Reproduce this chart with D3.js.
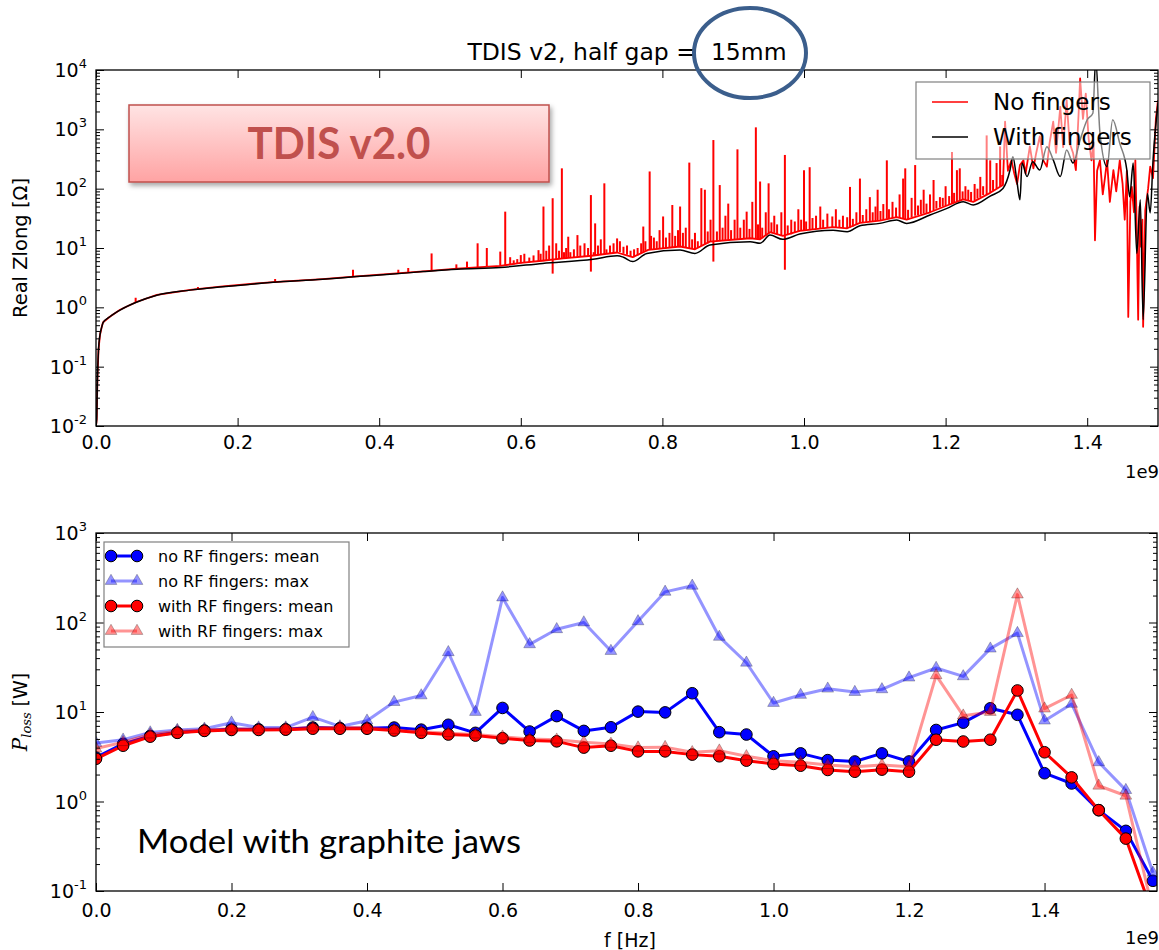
<!DOCTYPE html>
<html>
<head>
<meta charset="utf-8">
<script src="https://cdn.jsdelivr.net/npm/d3@7"></script>
<style>
  body { margin: 0; background: #fff; }
  svg { font-family: "DejaVu Sans", sans-serif; }
</style>
</head>
<body>
<svg id="chart" width="1159" height="950"></svg>
<script>
// ---- top panel: Real Zlong vs f (units of 1e9 Hz) ----
var withFingers = [
  [0.000, 0.010], [0.001, 0.013], [0.002, 0.060], [0.0035, 0.19], [0.0056, 0.34],
  [0.008, 0.46], [0.010, 0.55], [0.020, 0.70], [0.034, 0.90], [0.057, 1.22],
  [0.086, 1.60], [0.133, 1.95], [0.179, 2.22], [0.250, 2.64], [0.320, 2.96],
  [0.368, 3.30], [0.415, 3.60], [0.462, 4.00], [0.510, 4.40], [0.571, 4.70],
  [0.631, 5.50], [0.702, 6.45], [0.736, 7.40], [0.745, 7.00], [0.758, 5.90],
  [0.778, 8.10], [0.825, 9.25], [0.846, 8.10], [0.867, 11.2], [0.924, 12.8],
  [0.938, 12.0], [0.952, 16.5], [0.970, 14.0], [0.994, 17.2], [1.041, 20.0],
  [1.061, 18.8], [1.079, 23.8], [1.107, 26.0], [1.131, 29.6], [1.145, 26.0],
  [1.178, 36.0], [1.202, 46.5], [1.225, 60.0], [1.239, 53.0], [1.263, 75.0],
  [1.281, 101], [1.291, 206], [1.295, 345], [1.301, 126], [1.305, 65],
  [1.308, 270], [1.315, 160], [1.323, 285], [1.333, 206], [1.343, 510],
  [1.352, 305], [1.362, 160], [1.371, 450], [1.380, 270], [1.390, 660],
  [1.400, 1450], [1.408, 1870], [1.412, 15000], [1.418, 870], [1.428, 235],
  [1.436, 1450], [1.446, 580], [1.456, 206], [1.460, 73], [1.465, 270],
  [1.470, 8.1], [1.475, 65], [1.479, 0.62], [1.485, 83], [1.489, 39],
  [1.493, 305], [1.500, 2760]
];

// "No fingers": running level of the red trace ...
var noFingersBase = [
  [0.000, 0.010], [0.001, 0.013], [0.002, 0.060], [0.0035, 0.19], [0.0056, 0.34],
  [0.008, 0.46], [0.010, 0.56], [0.020, 0.70], [0.034, 0.91], [0.057, 1.23],
  [0.086, 1.62], [0.133, 1.97], [0.179, 2.25], [0.250, 2.67], [0.320, 3.00],
  [0.368, 3.33], [0.415, 3.65], [0.462, 4.05], [0.510, 4.50], [0.571, 5.00],
  [0.600, 5.6], [0.630, 6.1], [0.660, 6.7], [0.700, 7.4], [0.736, 8.4],
  [0.758, 7.0], [0.780, 9.3], [0.825, 10.6], [0.846, 9.5], [0.867, 12.8],
  [0.924, 14.6], [0.938, 14.0], [0.952, 18.5], [0.970, 16.0], [0.994, 19.5],
  [1.041, 22.5], [1.061, 21.5], [1.079, 26.5], [1.107, 29.0], [1.131, 33.0],
  [1.145, 30.0], [1.178, 40.0], [1.202, 52.0], [1.225, 66.0], [1.239, 60.0],
  [1.263, 85.0], [1.281, 115], [1.284, 1350], [1.288, 200], [1.293, 300],
  [1.297, 180], [1.301, 120], [1.305, 250], [1.310, 300], [1.313, 180],
  [1.319, 515], [1.324, 220], [1.328, 400], [1.333, 760], [1.338, 300],
  [1.343, 235], [1.347, 600], [1.352, 1350], [1.356, 400], [1.362, 2400],
  [1.366, 500], [1.371, 3100], [1.375, 600], [1.380, 400], [1.384, 205],
  [1.388, 2000], [1.390, 7200], [1.394, 1500], [1.398, 4000], [1.402, 700],
  [1.406, 300], [1.409, 600], [1.411, 13.5], [1.414, 200], [1.418, 300],
  [1.422, 80], [1.425, 150], [1.428, 300], [1.432, 60], [1.437, 205],
  [1.441, 90], [1.446, 300], [1.450, 120], [1.453, 30], [1.456, 200],
  [1.458, 0.69], [1.461, 60], [1.463, 107], [1.466, 40], [1.468, 300],
  [1.470, 20], [1.472, 0.62], [1.474, 50], [1.476, 10.5], [1.478, 30],
  [1.479, 0.47], [1.482, 43], [1.486, 100], [1.489, 235], [1.493, 150],
  [1.497, 1500], [1.500, 3100]
];

// ... and its narrow resonance spikes: [f, from, to]
var noFingersSpikes = [
  [0.056, 1.23, 1.45], [0.144, 2.02, 2.2], [0.253, 2.67, 3.0], [0.363, 3.3, 4.3],
  [0.427, 3.75, 4.3], [0.441, 3.9, 4.6], [0.474, 4.1, 8.1], [0.509, 4.5, 5.3],
  [0.524, 4.6, 5.9], [0.539, 4.75, 12], [0.552, 4.9, 10], [0.571, 5.0, 8.7],
  [0.578, 5.1, 41], [0.585, 5.2, 7], [0.590, 5.3, 6.2], [0.595, 5.4, 6.5],
  [0.600, 5.5, 7.6], [0.605, 5.6, 8], [0.612, 5.7, 6.9], [0.618, 5.8, 7.5],
  [0.625, 5.9, 9.2], [0.628, 6.0, 8], [0.632, 6.0, 50], [0.636, 6.1, 9],
  [0.640, 6.2, 11], [0.645, 3.7, 69], [0.650, 6.4, 12], [0.654, 6.5, 9],
  [0.658, 6.6, 220], [0.661, 6.7, 8.5], [0.664, 6.7, 10], [0.667, 6.8, 15.5],
  [0.670, 6.9, 8.5], [0.675, 7.0, 9.5], [0.680, 7.1, 16.5], [0.684, 7.1, 11],
  [0.690, 7.2, 12], [0.695, 7.3, 10], [0.699, 4.0, 78], [0.703, 7.4, 8.5],
  [0.705, 7.4, 26], [0.709, 7.5, 11], [0.713, 7.6, 14], [0.718, 7.8, 123],
  [0.721, 7.9, 9.5], [0.726, 8.0, 11], [0.731, 8.2, 12], [0.736, 8.4, 14.5],
  [0.740, 8.5, 13], [0.745, 8.0, 10.5], [0.750, 7.7, 11], [0.755, 7.2, 9],
  [0.760, 7.0, 9.5], [0.765, 7.5, 10], [0.770, 8.2, 12], [0.773, 8.6, 23],
  [0.776, 9.0, 13], [0.782, 9.3, 195], [0.784, 9.3, 16], [0.788, 9.5, 15],
  [0.792, 9.6, 13], [0.796, 9.8, 20], [0.801, 10, 34], [0.805, 10, 15],
  [0.810, 10.2, 18], [0.814, 10.3, 53], [0.818, 10.4, 16], [0.822, 10.5, 20],
  [0.825, 10.6, 50], [0.829, 10.5, 18], [0.833, 10.3, 22], [0.838, 10, 275],
  [0.842, 9.8, 14], [0.846, 9.5, 18], [0.850, 10, 13], [0.855, 10.8, 102],
  [0.860, 11.5, 96], [0.864, 12, 19], [0.868, 12.8, 30], [0.872, 5.9, 660],
  [0.877, 13, 19], [0.881, 13, 115], [0.885, 13.2, 22], [0.889, 13.3, 35],
  [0.893, 13.5, 56], [0.897, 13.7, 20], [0.902, 13.8, 30], [0.906, 14, 460],
  [0.910, 14.1, 22], [0.915, 14.3, 30], [0.919, 14.4, 41], [0.923, 14.5, 21],
  [0.927, 14.5, 60], [0.932, 14.4, 1080], [0.935, 14.2, 25], [0.938, 14, 132],
  [0.941, 14.5, 22], [0.946, 16, 40], [0.950, 17.5, 123], [0.954, 18, 27],
  [0.958, 18, 35], [0.962, 17, 25], [0.968, 16.3, 40], [0.973, 4.3, 370],
  [0.977, 16.5, 24], [0.982, 17, 30], [0.987, 18.5, 28], [0.992, 19, 45],
  [0.996, 19.5, 30], [1.000, 19.6, 205], [1.003, 19.8, 28], [1.008, 20, 230],
  [1.012, 20.5, 32], [1.017, 21, 35], [1.023, 21.5, 50], [1.027, 21.8, 30],
  [1.033, 22.2, 38], [1.040, 22.5, 34], [1.045, 22.4, 45], [1.050, 22, 30],
  [1.055, 21.8, 35], [1.061, 21.5, 33], [1.065, 22, 107], [1.069, 23, 31],
  [1.074, 24.5, 40], [1.079, 26.5, 148], [1.083, 27, 36], [1.088, 27.5, 45],
  [1.093, 28, 72], [1.097, 28.3, 40], [1.101, 28.5, 50], [1.104, 28.8, 96],
  [1.108, 29.2, 42], [1.112, 30, 55], [1.117, 31, 300], [1.120, 31.5, 45],
  [1.125, 32, 60], [1.130, 32.5, 48], [1.135, 32, 80], [1.140, 31, 148],
  [1.143, 30.5, 220], [1.147, 30, 44], [1.152, 33, 70], [1.157, 35, 250],
  [1.161, 36, 52], [1.165, 37, 65], [1.169, 38, 96], [1.173, 39, 56],
  [1.178, 40, 80], [1.183, 43, 140], [1.187, 46, 62], [1.192, 48, 72],
  [1.196, 50, 70], [1.200, 51, 110], [1.205, 53, 75], [1.209, 56, 415],
  [1.212, 58, 85], [1.216, 62, 205], [1.220, 64, 220], [1.224, 65, 90],
  [1.228, 66, 110], [1.232, 64, 96], [1.236, 62, 88], [1.241, 63, 120],
  [1.245, 68, 100], [1.249, 72, 158], [1.253, 78, 110], [1.258, 80, 790],
  [1.263, 85, 300], [1.267, 92, 140], [1.272, 100, 270], [1.277, 108, 515],
  [1.280, 112, 170]
];

// ---- bottom panel: P_loss vs f (units of 1e9 Hz) ----
var lossFreq = [0.00, 0.04, 0.08, 0.12, 0.16, 0.20, 0.24, 0.28, 0.32, 0.36,
                0.40, 0.44, 0.48, 0.52, 0.56, 0.60, 0.64, 0.68, 0.72, 0.76,
                0.80, 0.84, 0.88, 0.92, 0.96, 1.00, 1.04, 1.08, 1.12, 1.16,
                1.20, 1.24, 1.28, 1.32, 1.36, 1.40, 1.44, 1.48, 1.52, 1.56];
var noRFMean = [3.1, 4.4, 5.4, 5.9, 6.2, 6.4, 6.4, 6.4, 6.7, 6.6,
                6.6, 6.7, 6.35, 7.2, 5.85, 11.1, 6.05, 9.0, 6.15, 6.75,
                10.1, 9.9, 16.2, 5.95, 5.6, 3.2, 3.45, 2.9, 2.8, 3.45,
                2.8, 6.3, 7.6, 11.0, 9.3, 2.07, 1.59, 0.8, 0.47, 0.13];
var noRFMax = [4.5, 4.9, 5.9, 6.3, 6.5, 7.6, 6.7, 6.7, 8.75, 6.9,
               8.0, 12.9, 15.3, 46.5, 10.0, 190, 57, 84, 100, 48,
               103, 220, 257, 69, 35.5, 12.6, 15.5, 18.2, 16.7, 17.9,
               24.2, 31, 25, 51, 76, 8.0, 12.3, 2.74, 1.34, 0.16];
var withRFMean = [3.0, 4.2, 5.3, 5.85, 6.15, 6.3, 6.3, 6.35, 6.5, 6.5,
                  6.5, 6.2, 5.85, 5.6, 5.45, 5.1, 4.8, 4.7, 4.0, 4.2,
                  3.63, 3.63, 3.34, 3.2, 2.86, 2.63, 2.51, 2.25, 2.15, 2.27,
                  2.15, 4.9, 4.68, 4.9, 17.4, 3.55, 1.86, 0.8, 0.385, 0.055];
var withRFMax = [3.9, 4.6, 5.6, 6.1, 6.3, 6.5, 6.4, 6.5, 6.7, 6.7,
                 6.7, 6.3, 6.0, 5.8, 5.6, 5.3, 5.0, 4.9, 4.6, 4.4,
                 4.0, 4.05, 3.55, 3.7, 3.2, 2.86, 2.75, 2.55, 2.45, 2.55,
                 2.45, 25.7, 9.1, 10.0, 205, 10.9, 15.5, 1.5, 1.16, 0.06];

var xTickVals = [0, 0.2, 0.4, 0.6, 0.8, 1.0, 1.2, 1.4];
var topDecades = [1e-2, 1e-1, 1e0, 1e1, 1e2, 1e3, 1e4];
var botDecades = [1e-1, 1e0, 1e1, 1e2, 1e3];

var svg = d3.select("#chart");
var defs = svg.append("defs");

// plot boxes
var topBox = {left: 96, right: 1158, top: 70, bottom: 426};
var botBox = {left: 96, right: 1157, top: 533, bottom: 891};

var xTop = d3.scaleLinear().domain([0, 1.5]).range([topBox.left, topBox.right]);
var yTop = d3.scaleLog().domain([1e-2, 1e4]).range([topBox.bottom, topBox.top]);
var xBot = d3.scaleLinear().domain([0, 1.566]).range([botBox.left, botBox.right]);
var yBot = d3.scaleLog().domain([1e-1, 1e3]).range([botBox.bottom, botBox.top]);

function addClip(id, box) {
  defs.append("clipPath").attr("id", id)
    .append("rect")
    .attr("x", box.left).attr("y", box.top)
    .attr("width", box.right - box.left).attr("height", box.bottom - box.top);
}
addClip("clipTop", topBox);
addClip("clipBot", botBox);

// axes frame, inward ticks on all sides, log labels as 10^n
function drawFrame(box, x, y, decades, pad) {
  var g = svg.append("g");
  var minors = [];
  decades.forEach(function(d, i) {
    if (i < decades.length - 1) for (var k = 2; k < 10; k++) minors.push(d * k);
  });
  g.append("g").attr("transform", `translate(${box.left},0)`)
    .call(d3.axisLeft(y).tickValues(minors).tickSize(-4).tickFormat(""));
  g.append("g").attr("transform", `translate(${box.left},0)`)
    .call(d3.axisLeft(y).tickValues(decades).tickSize(-8).tickFormat(""));
  g.append("g").attr("transform", `translate(${box.right},0)`)
    .call(d3.axisRight(y).tickValues(minors).tickSize(-4).tickFormat(""));
  g.append("g").attr("transform", `translate(${box.right},0)`)
    .call(d3.axisRight(y).tickValues(decades).tickSize(-8).tickFormat(""));
  g.append("g").attr("transform", `translate(0,${box.top})`)
    .call(d3.axisTop(x).tickValues(xTickVals).tickSize(-8).tickFormat(""));
  g.append("g").attr("transform", `translate(0,${box.bottom})`)
    .call(d3.axisBottom(x).tickValues(xTickVals).tickSize(-8).tickPadding(pad)
      .tickFormat(d3.format(".1f")))
    .attr("font-size", 19).attr("font-family", "DejaVu Sans");
  g.selectAll(".domain").remove();
  g.selectAll(".tick line").attr("stroke", "#000").attr("stroke-width", 1);
  g.selectAll(".tick text").attr("fill", "#000");

  g.append("rect")
    .attr("x", box.left).attr("y", box.top)
    .attr("width", box.right - box.left).attr("height", box.bottom - box.top)
    .attr("fill", "none").attr("stroke", "#000").attr("stroke-width", 1.3);

  decades.forEach(function(d) {
    var t = g.append("text")
      .attr("x", box.left - 9).attr("y", y(d) + 7)
      .attr("text-anchor", "end").attr("font-size", 19).attr("fill", "#000");
    t.append("tspan").text("10");
    t.append("tspan").attr("dy", -9).attr("font-size", 13)
      .text(String(Math.round(Math.log10(d))));
  });
  return g;
}

// ===== top panel =====
var topPlot = svg.append("g").attr("clip-path", "url(#clipTop)");

topPlot.append("path")
  .datum(noFingersBase)
  .attr("fill", "none").attr("stroke", "#ff0000").attr("stroke-width", 1.8)
  .attr("stroke-linejoin", "round")
  .attr("d", d3.line().x(d => xTop(d[0])).y(d => yTop(d[1])));

topPlot.selectAll(".spike")
  .data(noFingersSpikes)
  .enter().append("line")
  .attr("class", "spike")
  .attr("x1", d => xTop(d[0])).attr("x2", d => xTop(d[0]))
  .attr("y1", d => yTop(d[1])).attr("y2", d => yTop(d[2]))
  .attr("stroke", "#ff0000").attr("stroke-width", 2);

topPlot.append("path")
  .datum(withFingers)
  .attr("fill", "none").attr("stroke", "#000").attr("stroke-width", 1.5)
  .attr("d", d3.line().curve(d3.curveMonotoneX).x(d => xTop(d[0])).y(d => yTop(d[1])));

drawFrame(topBox, xTop, yTop, topDecades, 10);

svg.append("text")
  .attr("x", (topBox.left + topBox.right) / 2).attr("y", 60)
  .attr("text-anchor", "middle").attr("font-size", 23.5)
  .text("TDIS v2, half gap = \u00a015mm");

svg.append("text")
  .attr("transform", `translate(27,${(topBox.top + topBox.bottom) / 2}) rotate(-90)`)
  .attr("text-anchor", "middle").attr("font-size", 19.5)
  .text("Real Zlong [\u03A9]");

svg.append("text").attr("x", 1125).attr("y", 478).attr("font-size", 18).text("1e9");

// top legend (semi-transparent)
var legTop = svg.append("g");
legTop.append("rect")
  .attr("x", 916).attr("y", 82).attr("width", 234).attr("height", 77)
  .attr("fill", "#fff").attr("fill-opacity", 0.5)
  .attr("stroke", "#808080").attr("stroke-width", 1.2);
[["No fingers", "#ff0000", 102], ["With fingers", "#000", 137]].forEach(function(e) {
  legTop.append("line").attr("x1", 932).attr("x2", 968).attr("y1", e[2]).attr("y2", e[2])
    .attr("stroke", e[1]).attr("stroke-width", 1.5);
  legTop.append("text").attr("x", 993).attr("y", e[2] + 8)
    .attr("font-size", 23).text(e[0]);
});

// highlight ellipse around the gap value
svg.append("ellipse")
  .attr("cx", 750).attr("cy", 53).attr("rx", 56).attr("ry", 45)
  .attr("fill", "none").attr("stroke", "#3b5e8c").attr("stroke-width", 4);

// "TDIS v2.0" label box
var grad = defs.append("linearGradient").attr("id", "boxGrad")
  .attr("x1", 0).attr("y1", 0).attr("x2", 0).attr("y2", 1);
grad.append("stop").attr("offset", "0%").attr("stop-color", "#ffe4e4");
grad.append("stop").attr("offset", "100%").attr("stop-color", "#ffa3a3");
var shadow = defs.append("filter").attr("id", "boxShadow")
  .attr("x", "-10%").attr("y", "-20%").attr("width", "130%").attr("height", "150%");
shadow.append("feDropShadow").attr("dx", 2).attr("dy", 3)
  .attr("stdDeviation", 2.5).attr("flood-color", "#000").attr("flood-opacity", 0.35);

svg.append("rect")
  .attr("x", 129).attr("y", 105).attr("width", 420).attr("height", 77)
  .attr("fill", "url(#boxGrad)").attr("stroke", "#c0504d").attr("stroke-width", 1.5)
  .attr("filter", "url(#boxShadow)");
svg.append("text")
  .attr("x", 339).attr("y", 159).attr("text-anchor", "middle")
  .attr("font-family", "Lato, 'Open Sans', sans-serif").attr("font-weight", "bold")
  .attr("font-size", 44).attr("fill", "#c0504d")
  .attr("textLength", 183).attr("lengthAdjust", "spacingAndGlyphs")
  .text("TDIS v2.0");

// ===== bottom panel =====
var series = [
  {name: "no RF fingers: mean", vals: noRFMean, color: "#0000ff", alpha: 1, marker: "circle"},
  {name: "no RF fingers: max", vals: noRFMax, color: "#0000ff", alpha: 0.42, marker: "triangle"},
  {name: "with RF fingers: mean", vals: withRFMean, color: "#ff0000", alpha: 1, marker: "circle"},
  {name: "with RF fingers: max", vals: withRFMax, color: "#ff0000", alpha: 0.42, marker: "triangle"}
];

var botPlot = svg.append("g").attr("clip-path", "url(#clipBot)");
var triangle = d3.symbol().type(d3.symbolTriangle).size(60);

function drawMarker(g, kind, cx, cy, s) {
  if (kind === "circle") {
    g.append("circle").attr("cx", cx).attr("cy", cy).attr("r", 5.8)
      .attr("fill", s.color).attr("fill-opacity", s.alpha)
      .attr("stroke", "#000").attr("stroke-opacity", s.alpha).attr("stroke-width", 1);
  } else {
    g.append("path").attr("d", triangle()).attr("transform", `translate(${cx},${cy})`)
      .attr("fill", s.color).attr("fill-opacity", s.alpha)
      .attr("stroke", "#000").attr("stroke-opacity", s.alpha * 0.6).attr("stroke-width", 1);
  }
}

series.forEach(function(s) {
  var pts = lossFreq.map((f, i) => [f, s.vals[i]]);
  botPlot.append("path")
    .datum(pts)
    .attr("fill", "none").attr("stroke", s.color).attr("stroke-opacity", s.alpha)
    .attr("stroke-width", 3).attr("stroke-linejoin", "round")
    .attr("d", d3.line().x(d => xBot(d[0])).y(d => yBot(d[1])));
  var mg = botPlot.append("g");
  pts.forEach(function(p) { drawMarker(mg, s.marker, xBot(p[0]), yBot(p[1]), s); });
});

drawFrame(botBox, xBot, yBot, botDecades, 13);

// bottom legend
var legBot = svg.append("g");
legBot.append("rect")
  .attr("x", 104).attr("y", 542).attr("width", 245).attr("height", 105)
  .attr("fill", "#fff").attr("stroke", "#808080").attr("stroke-width", 1.2);
series.forEach(function(s, i) {
  var ly = 556 + i * 25;
  legBot.append("line").attr("x1", 111).attr("x2", 137).attr("y1", ly).attr("y2", ly)
    .attr("stroke", s.color).attr("stroke-opacity", s.alpha).attr("stroke-width", 3);
  drawMarker(legBot, s.marker, 111, ly, s);
  drawMarker(legBot, s.marker, 137, ly, s);
  legBot.append("text").attr("x", 158).attr("y", ly + 6)
    .attr("font-size", 16).text(s.name);
});

// axis labels
var pl = svg.append("text")
  .attr("transform", `translate(27,${(botBox.top + botBox.bottom) / 2}) rotate(-90)`)
  .attr("text-anchor", "middle").attr("font-size", 19);
pl.append("tspan").attr("font-family", "DejaVu Serif").attr("font-style", "italic")
  .attr("font-size", 20).text("P");
pl.append("tspan").attr("font-family", "DejaVu Serif").attr("font-style", "italic")
  .attr("font-size", 13).attr("dy", 4).text("loss");
pl.append("tspan").attr("dy", -4).text(" [W]");

svg.append("text").attr("x", 630).attr("y", 947)
  .attr("text-anchor", "middle").attr("font-size", 19).text("f [Hz]");
svg.append("text").attr("x", 1125).attr("y", 944).attr("font-size", 18).text("1e9");

svg.append("text")
  .attr("x", 137).attr("y", 853)
  .attr("font-family", "Lato, 'Open Sans', sans-serif").attr("font-size", 32)
  .attr("textLength", 384).attr("lengthAdjust", "spacingAndGlyphs")
  .text("Model with graphite jaws");
</script>
</body>
</html>
